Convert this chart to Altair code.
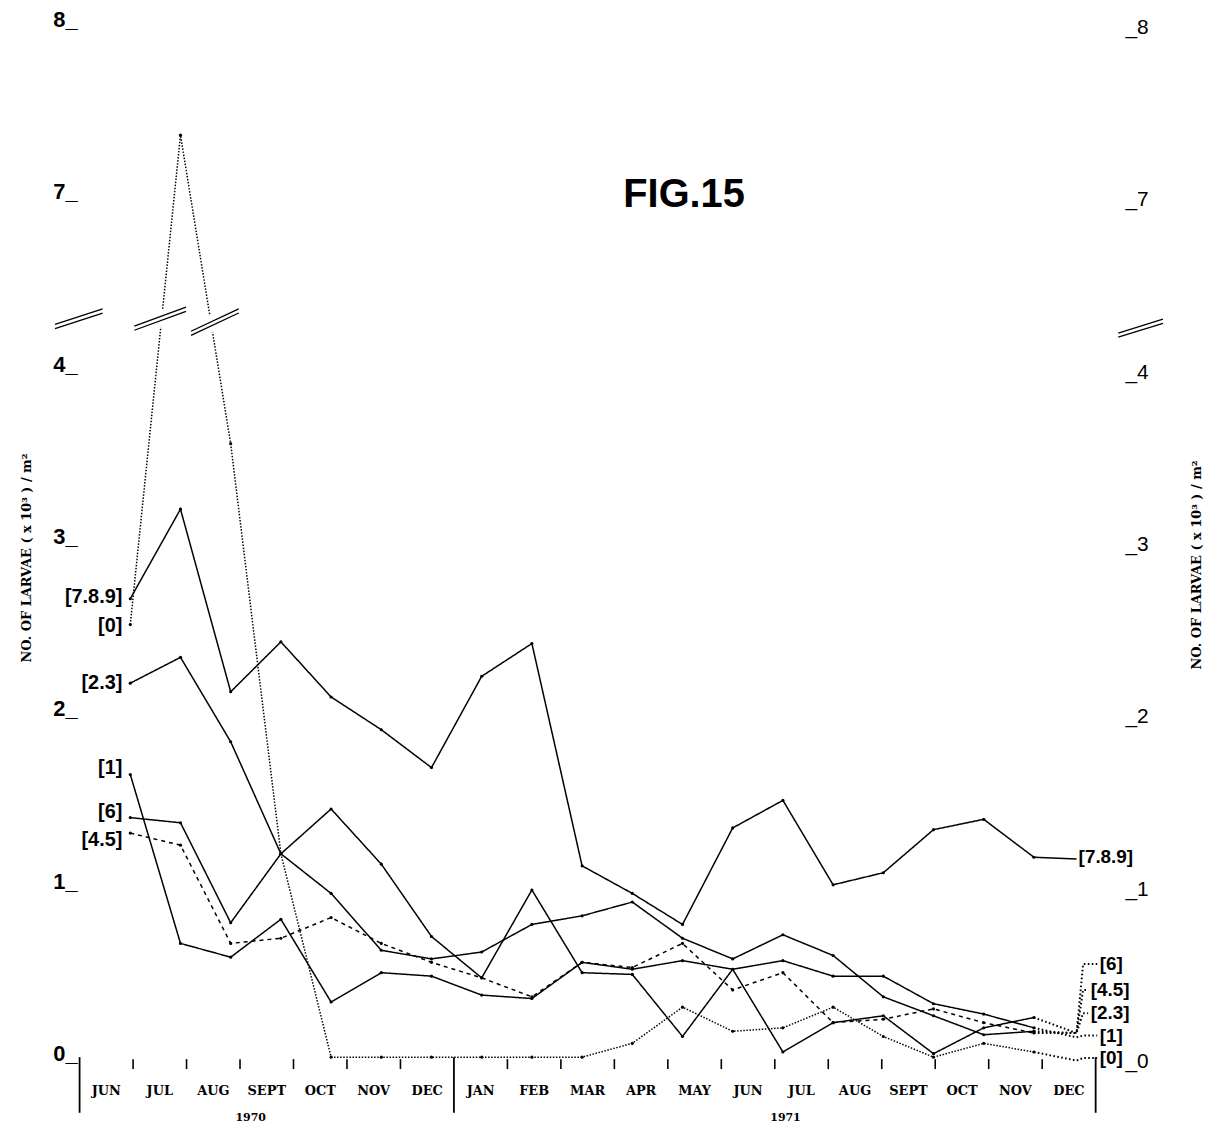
import altair as alt
import pandas as pd

# ---------------- data ----------------
months = ["JUN", "JUL", "AUG", "SEPT", "OCT", "NOV", "DEC",
          "JAN", "FEB", "MAR", "APR", "MAY", "JUN", "JUL", "AUG", "SEPT", "OCT", "NOV", "DEC"]
years = ["1970", "1971"]
year_centre = [3.2, 13.2]          # month-slot units
year_dividers = [0, 7, 19]         # month-slot boundaries drawn as long rules

series_names = ["[0]", "[1]", "[2.3]", "[4.5]", "[6]", "[7.8.9]"]
s0 = [2.51, 7.35, 3.56, 1.18, 0.0, 0.0, 0.0, 0.0, 0.0, 0.0, 0.08, 0.29, 0.15, 0.17, 0.29, 0.12, 0.0, 0.08, 0.03]
s1 = [1.64, 0.66, 0.58, 0.80, 0.32, 0.49, 0.47, 0.36, 0.34, 0.55, 0.51, 0.56, 0.51, 0.56, 0.47, 0.47, 0.31, 0.25, 0.17]
s23 = [2.17, 2.32, 1.83, 1.18, 0.95, 0.62, 0.57, 0.61, 0.77, 0.82, 0.90, 0.69, 0.57, 0.71, 0.59, 0.35, 0.24, 0.13, 0.15]
s45 = [1.30, 1.23, 0.66, 0.69, 0.81, 0.66, 0.55, 0.46, 0.35, 0.55, 0.52, 0.66, 0.39, 0.49, 0.20, 0.22, 0.28, 0.20, 0.14]
s6 = [1.39, 1.36, 0.78, 1.18, 1.44, 1.12, 0.70, 0.46, 0.97, 0.49, 0.48, 0.12, 0.51, 0.03, 0.20, 0.24, 0.02, 0.17, 0.23]
s789 = [2.66, 3.18, 2.12, 2.41, 2.09, 1.90, 1.68, 2.21, 2.40, 1.11, 0.95, 0.77, 1.33, 1.49, 1.00, 1.07, 1.32, 1.38, 1.16]
all_series = [s0, s1, s23, s45, s6, s789]

left_label_v = [2.50, 1.68, 2.17, 1.26, 1.42, 2.67]
right_label_v = [-0.005, 0.125, 0.255, 0.39, 0.54, 1.16]
right_label_i = [19.31, 19.31, 19.13, 19.13, 19.31, 18.89]
elbow_v = [-0.02, 0.115, 0.14, 0.14, 0.14, 1.15]

y_ticks = [0, 1, 2, 3, 4, 7, 8]

# break symbols (month-index units for x, display units for y)
break_i0 = [-1.50, 0.08, 1.21, 19.68]
break_i1 = [-0.55, 1.11, 2.16, 20.57]
break_y0 = [4.24, 4.23, 4.20, 4.19]
break_y1 = [4.33, 4.34, 4.33, 4.27]

AXIS_BREAK = "datum.v > 4.5 ? datum.v - 2 : datum.v"

# ---------------- tables ----------------
rows = []
for name, vals in zip(series_names, all_series):
    for i, v in enumerate(vals):
        rows.append({"series": name, "i": i, "v": v})
df = pd.DataFrame(rows)

left_lab = pd.DataFrame({"series": series_names, "i": [0] * 6, "v": left_label_v})
right_lab = pd.DataFrame({"series": series_names, "i": right_label_i, "v": right_label_v})

ELBOW_I, BEND_I = 18.85, 18.98
conn_rows = []
for k, name in enumerate(series_names):
    last = all_series[k][-1]
    if name == "[7.8.9]":
        pts = [(18, last), (ELBOW_I, elbow_v[k])]
    else:
        pts = [(18, last), (ELBOW_I, elbow_v[k]), (BEND_I, right_label_v[k]),
               (right_label_i[k] - 0.05, right_label_v[k])]
    for o, (ii, vv) in enumerate(pts):
        conn_rows.append({"series": name, "o": o, "i": ii, "v": vv,
                          "solid": name == "[7.8.9]"})
conn = pd.DataFrame(conn_rows)

brk_rows = []
for b in range(len(break_i0)):
    for off in (-0.012, 0.012):
        brk_rows.append({"b": b, "i0": break_i0[b], "i1": break_i1[b],
                         "y0": break_y0[b] + off, "y1": break_y1[b] + off})
brk = pd.DataFrame(brk_rows)
brk_white = pd.DataFrame({"i0": break_i0, "i1": break_i1, "y0": break_y0, "y1": break_y1})

ytick_df = pd.DataFrame({"v": y_ticks,
                         "left": [f"{t}_" for t in y_ticks],
                         "right": [f"_{t}" for t in y_ticks]})

month_df = pd.DataFrame({"m": months, "c": [k + 0.5 for k in range(len(months))]})
tick_df = pd.DataFrame({"b": [k for k in range(1, len(months)) if k not in year_dividers]})
div_df = pd.DataFrame({"b": year_dividers})
year_df = pd.DataFrame({"y": years, "c": year_centre})

# ---------------- scales ----------------
W, H = 1022, 1040
xs = alt.Scale(domain=[-1.01, 19.23], nice=False, zero=False)
xm = alt.Scale(domain=[0, 19], nice=False, zero=False)
ys = alt.Scale(domain=[0, 6], nice=False, zero=False)

dash = alt.StrokeDash("series:N", legend=None,
                      scale=alt.Scale(domain=series_names,
                                      range=[[1.5, 1.6], [1, 0], [1, 0], [4, 4], [1, 0], [1, 0]]))

lines = alt.Chart(df).transform_calculate(vy=AXIS_BREAK).mark_line(
    color="black", strokeWidth=1.5).encode(
    x=alt.X("i:Q", scale=xs, axis=None),
    y=alt.Y("vy:Q", scale=ys, axis=None),
    detail="series:N", order="i:Q", strokeDash=dash)

points = alt.Chart(df).transform_calculate(vy=AXIS_BREAK).mark_circle(
    color="black", size=10, opacity=1).encode(
    x=alt.X("i:Q", scale=xs, axis=None), y=alt.Y("vy:Q", scale=ys, axis=None))

conn_dotted = alt.Chart(conn).transform_filter("!datum.solid").mark_line(
    color="black", strokeWidth=2, strokeDash=[1.6, 2.4]).encode(
    x=alt.X("i:Q", scale=xs, axis=None), y=alt.Y("v:Q", scale=ys, axis=None),
    detail="series:N", order="o:Q")
conn_solid = alt.Chart(conn).transform_filter("datum.solid").mark_line(
    color="black", strokeWidth=1.5).encode(
    x=alt.X("i:Q", scale=xs, axis=None), y=alt.Y("v:Q", scale=ys, axis=None),
    detail="series:N", order="o:Q")

brk_w = alt.Chart(brk_white).mark_rule(color="white", strokeWidth=16).encode(
    x=alt.X("i0:Q", scale=xs, axis=None), x2="i1:Q",
    y=alt.Y("y0:Q", scale=ys, axis=None), y2="y1:Q")
brk_b = alt.Chart(brk).mark_rule(color="black", strokeWidth=1.3).encode(
    x=alt.X("i0:Q", scale=xs, axis=None), x2="i1:Q",
    y=alt.Y("y0:Q", scale=ys, axis=None), y2="y1:Q")

lab_font = "Liberation Sans, Arial, sans-serif"
left_labels = alt.Chart(left_lab).mark_text(
    align="right", baseline="middle", dx=-8, font=lab_font, fontSize=20,
    fontWeight="bold", color="black").encode(
    x=alt.X("i:Q", scale=xs, axis=None), y=alt.Y("v:Q", scale=ys, axis=None),
    text="series:N")
right_labels = alt.Chart(right_lab).mark_text(
    align="left", baseline="middle", font=lab_font, fontSize=19,
    fontWeight="bold", color="black").encode(
    x=alt.X("i:Q", scale=xs, axis=None), y=alt.Y("v:Q", scale=ys, axis=None),
    text="series:N")

ylab_left = alt.Chart(ytick_df).transform_calculate(vy=AXIS_BREAK).mark_text(
    align="right", baseline="alphabetic", dx=-2, dy=4, font="Liberation Sans",
    fontSize=22, fontWeight="bold", color="black").encode(
    x=alt.value(0), y=alt.Y("vy:Q", scale=ys, axis=None), text="left:N")
ylab_right = alt.Chart(ytick_df).transform_calculate(vy=AXIS_BREAK).mark_text(
    align="left", baseline="alphabetic", dy=11, font="Liberation Sans",
    fontSize=21, color="black").encode(
    x=alt.value(W + 30), y=alt.Y("vy:Q", scale=ys, axis=None), text="right:N")

data_layer = alt.layer(lines, points, conn_dotted, conn_solid, brk_w, brk_b,
                       left_labels, right_labels, ylab_left, ylab_right)

# ---------------- month axis (own slot scale) ----------------
ticks = alt.Chart(tick_df).mark_rule(color="black", strokeWidth=1.6).encode(
    x=alt.X("b:Q", scale=xm, axis=None), y=alt.value(H + 2), y2=alt.value(H + 12))
dividers = alt.Chart(div_df).mark_rule(color="black", strokeWidth=1.8).encode(
    x=alt.X("b:Q", scale=xm, axis=None), y=alt.value(H), y2=alt.value(H + 56))
mlabels = alt.Chart(month_df).mark_text(
    baseline="alphabetic", font="DejaVu Serif", fontSize=13, fontWeight="bold",
    color="black").encode(
    x=alt.X("c:Q", scale=xm, axis=None), y=alt.value(H + 38), text="m:N")
ylabels = alt.Chart(year_df).mark_text(
    baseline="alphabetic", font="DejaVu Serif", fontSize=11, fontWeight="bold",
    color="black").encode(
    x=alt.X("c:Q", scale=xm, axis=None), y=alt.value(H + 64), text="y:N")

month_layer = alt.layer(ticks, dividers, mlabels, ylabels)

# ---------------- free texts ----------------
title = alt.Chart(pd.DataFrame({"t": ["FIG.15"]})).mark_text(
    font="Liberation Sans", fontSize=40, fontWeight="bold", baseline="alphabetic",
    color="black").encode(x=alt.value(608), y=alt.value(185), text="t:N")
ytitle_txt = "NO. OF LARVAE  ( x 10³ )  /  m²"
ytitle_l = alt.Chart(pd.DataFrame({"t": [ytitle_txt]})).mark_text(
    font="DejaVu Serif", fontSize=13, fontWeight="bold", angle=270,
    baseline="middle", color="black").encode(
    x=alt.value(-53), y=alt.value(538), text="t:N")
ytitle_r = alt.Chart(pd.DataFrame({"t": [ytitle_txt]})).mark_text(
    font="DejaVu Serif", fontSize=13, fontWeight="bold", angle=270,
    baseline="middle", color="black").encode(
    x=alt.value(W + 102), y=alt.value(545), text="t:N")

chart = alt.layer(data_layer, month_layer, title, ytitle_l, ytitle_r).resolve_scale(
    x="independent"
).properties(
    width=W, height=H,
    autosize=alt.AutoSizeParams(type="none"),
    padding={"left": 72, "top": 12, "right": 114, "bottom": 64},
    background="white",
).configure_view(stroke=None)

chart.save("out.html", embed_options={"renderer": "svg", "actions": False})
